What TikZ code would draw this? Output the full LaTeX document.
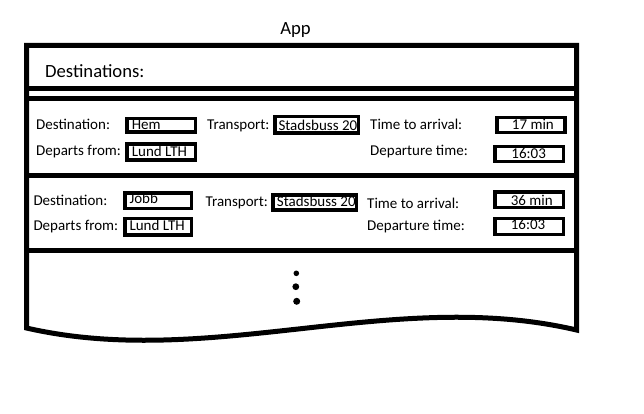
\documentclass[tikz,border=0pt]{standalone}
\usepackage{fontspec}
\setmainfont{Carlito}
\begin{document}
\begin{tikzpicture}[x=1pt,y=-1pt,
  frame/.style={line width=5pt, line join=miter},
  valbox/.style={draw, line width=3.5pt, inner sep=0pt, outer sep=0pt},
  lbl/.style={anchor=base west, inner sep=0pt, font=\fontsize{15}{18}\selectfont},
  clbl/.style={anchor=base, inner sep=0pt, font=\fontsize{15}{18}\selectfont},
  hdr/.style={inner sep=0pt, font=\fontsize{18.67}{22}\selectfont}]
\useasboundingbox[fill=white] (0,0) rectangle (644,414);
% frame corners
\coordinate (tl) at (26.5,45.5);
\coordinate (tr) at (576.5,45.5);
\coordinate (bl) at (26.5,328);
\coordinate (br) at (576.5,330);
\draw[frame] (bl) -- (tl) -- (tr) -- (br) .. controls (393,287) and (210,370) .. cycle;
% horizontal separators
\coordinate (h1l) at (26.5,89);   \coordinate (h1r) at (576.5,89);
\coordinate (h2l) at (26.5,98.5); \coordinate (h2r) at (576.5,98.5);
\coordinate (h3l) at (26.5,175.5);\coordinate (h3r) at (576.5,175.5);
\coordinate (h4l) at (26.5,250.5);\coordinate (h4r) at (576.5,250.5);
\draw[frame] (h1l) -- (h1r);
\draw[frame] (h2l) -- (h2r);
\draw[frame] (h3l) -- (h3r);
\draw[frame] (h4l) -- (h4r);
% header texts
\node[hdr, anchor=base] (app) at (295.5,34.5) {App};
\node[hdr, anchor=base west] (dests) at (45,77.3) {Destinations:};
% item 1 boxes
\node[valbox, minimum width=68.8pt, minimum height=13.8pt] (hem) at (161.15,125.35) {};
\node[valbox, minimum width=68.8pt, minimum height=15.9pt] (lund1) at (161.15,152) {};
\node[valbox, minimum width=83.2pt, minimum height=16.5pt] (trans1) at (316.65,125) {};
\node[valbox, minimum width=68.2pt, minimum height=14.8pt] (arr1) at (530.85,125.15) {};
\node[valbox, minimum width=68.5pt, minimum height=14.8pt] (dep1) at (529,154.15) {};
% item 1 texts
\node[lbl] (d1) at (36,129.5) {Destination:};
\node[lbl] (hemt) at (131.7,130) {Hem};
\node[lbl] (tr1) at (207,130) {Transport:};
\node[lbl] (st1) at (278.3,130.5) {Stadsbuss 20};
\node[lbl] (ta1) at (370,129.5) {Time to arrival:};
\node[clbl] (m17) at (532.9,130) {17 min};
\node[lbl] (df1) at (36,156) {Departs from:};
\node[lbl] (lu1) at (131.7,156.7) {Lund LTH};
\node[lbl] (dt1) at (370,156) {Departure time:};
\node[clbl] (t1) at (528.7,158) {16:03};
% item 2 boxes
\node[valbox, minimum width=66.5pt, minimum height=15.5pt] (jobb) at (158.3,200.5) {};
\node[valbox, minimum width=66.5pt, minimum height=16.5pt] (lund2) at (158.3,226.7) {};
\node[valbox, minimum width=83.8pt, minimum height=14.9pt] (trans2) at (314.65,202.5) {};
\node[valbox, minimum width=68.2pt, minimum height=15.5pt] (arr2) at (529.15,199.5) {};
\node[valbox, minimum width=68.2pt, minimum height=15.8pt] (dep2) at (529.15,226.35) {};
% item 2 texts
\node[lbl] (d2) at (33.3,205) {Destination:};
\node[lbl] (jo) at (129.3,203.3) {Jobb};
\node[lbl] (tr2) at (205.5,206.7) {Transport:};
\node[lbl] (st2) at (276.7,206.7) {Stadsbuss 20};
\node[lbl] (ta2) at (367,208.3) {Time to arrival:};
\node[clbl] (m36) at (531.7,205) {36 min};
\node[lbl] (df2) at (33.3,230.7) {Departs from:};
\node[lbl] (lu2) at (129.3,230.7) {Lund LTH};
\node[lbl] (dt2) at (367,230.7) {Departure time:};
\node[clbl] (t2) at (528,229.3) {16:03};
% ellipsis dots
\fill (296.3,273.3) circle (2.8pt);
\fill (295.8,286.7) circle (3.4pt);
\fill (296.7,301.3) circle (3.5pt);
\end{tikzpicture}
\end{document}
